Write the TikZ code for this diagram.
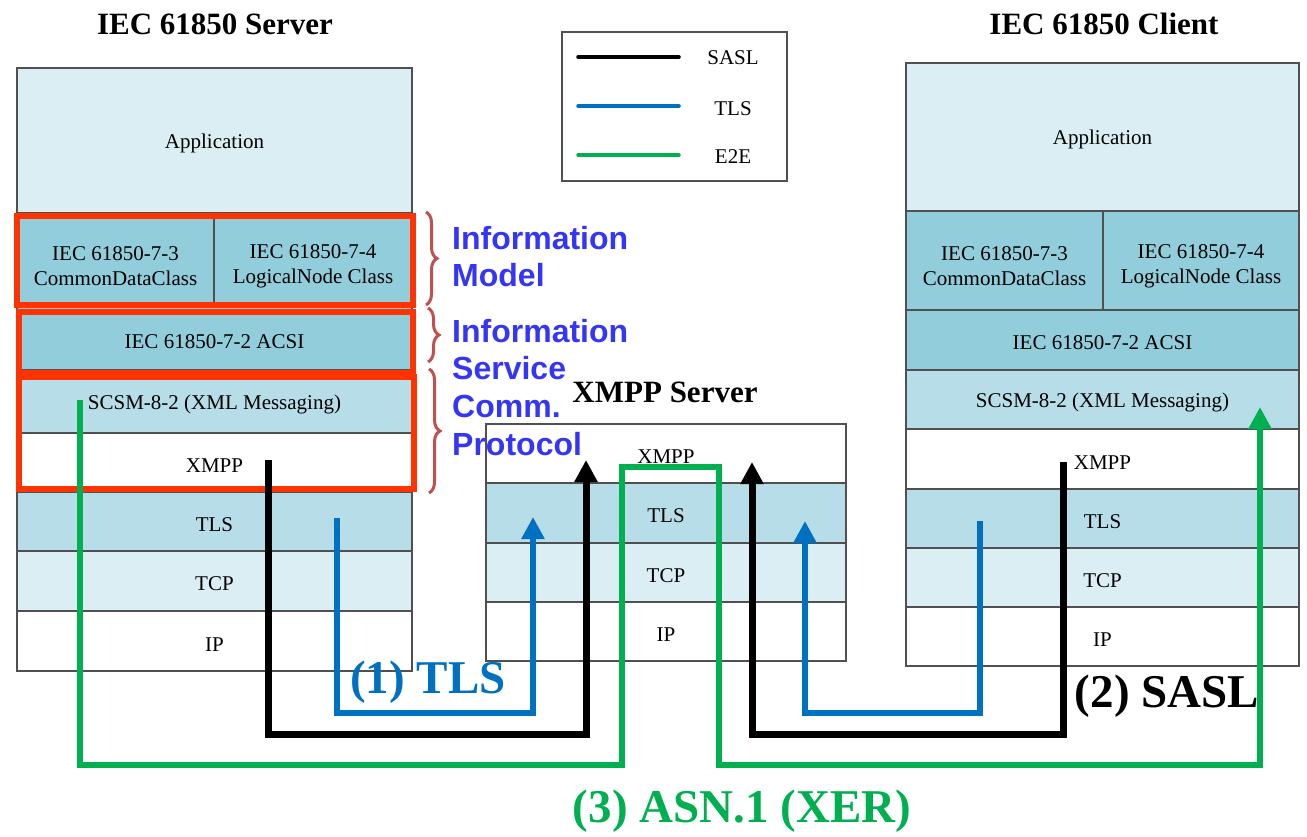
\documentclass[tikz,border=0pt]{standalone}
\usepackage{fontspec}
\setmainfont{Liberation Serif}
\newfontfamily\labelsans{Liberation Sans}
\usetikzlibrary{arrows.meta,decorations.pathreplacing}

\definecolor{appfill}{HTML}{DAEEF3}
\definecolor{modfill}{HTML}{92CDDC}
\definecolor{msgfill}{HTML}{B7DEE8}
\definecolor{edgegray}{HTML}{505050}
\definecolor{hlred}{HTML}{FF3300}
\definecolor{bracered}{HTML}{C0504D}
\definecolor{infoblue}{HTML}{3535F5}
\definecolor{tlsblue}{HTML}{0070C0}
\definecolor{e2egreen}{HTML}{00B050}

% invisible strut that lowers a layer caption a little
\newcommand\capstrut[1]{\rule{0pt}{#1}}

\begin{document}
\begin{tikzpicture}[x=1pt,y=-1pt,
  lay/.style={draw=edgegray, line width=1.3pt, anchor=north west, inner sep=0pt,
    outer sep=0pt, align=center, font=\fontsize{21}{25}\selectfont,
    execute at begin node={\capstrut{20pt}}},
  title/.style={anchor=base, font=\bfseries\fontsize{31}{36}\selectfont},
  biglabel/.style={anchor=base, font=\bfseries\fontsize{47}{52}\selectfont},
  infolabel/.style={anchor=north west, inner sep=0pt, align=left, text=infoblue,
    font=\labelsans\bfseries\fontsize{32}{37.5}\selectfont},
  hlbox/.style={draw=hlred, line width=6pt},
  bracket/.style={draw=bracered, line width=3pt, decorate,
    decoration={brace, amplitude=11pt}},
  legendtext/.style={anchor=base, font=\fontsize{21}{25}\selectfont},
  sasl/.style={draw=black, line width=7pt},
  tls/.style={draw=tlsblue, line width=6pt},
  e2e/.style={draw=e2egreen, line width=6.5pt},
  tip/.style={-{Triangle[width=22pt,length=22pt]}},
]
\useasboundingbox (0,0) rectangle (1307,837);

% ---------- IEC 61850 server stack ----------
\node[title] (stitle) at (215,35) {IEC 61850 Server};
\node[lay,fill=appfill,minimum width=395pt,minimum height=145pt] (sapp) at (17,68) {Application};
\node[lay,fill=modfill,minimum width=197pt,minimum height=94pt] (scdc) at (17,213) {\capstrut{26pt}IEC 61850-7-3\\CommonDataClass};
\node[lay,fill=modfill,minimum width=198pt,minimum height=94pt] (sln) at (214,213) {\capstrut{26pt}IEC 61850-7-4\\LogicalNode Class};
\node[lay,fill=modfill,minimum width=395pt,minimum height=63pt] (sacsi) at (17,307) {IEC 61850-7-2 ACSI};
\node[lay,fill=msgfill,minimum width=395pt,minimum height=63pt] (sscsm) at (17,370) {SCSM-8-2 (XML Messaging)};
\node[lay,fill=white,minimum width=395pt,minimum height=59pt] (sxmpp) at (17,433) {XMPP};
\node[lay,fill=msgfill,minimum width=395pt,minimum height=59pt] (stls) at (17,492) {TLS};
\node[lay,fill=appfill,minimum width=395pt,minimum height=60pt] (stcp) at (17,551) {TCP};
\node[lay,fill=white,minimum width=395pt,minimum height=60pt] (sip) at (17,611) {IP};

% ---------- XMPP server stack ----------
\node[title] (xtitle) at (665,402) {XMPP Server};
\node[lay,fill=white,minimum width=360pt,minimum height=59pt] (xxmpp) at (486,424) {XMPP};
\node[lay,fill=msgfill,minimum width=360pt,minimum height=60pt] (xtls) at (486,483) {TLS};
\node[lay,fill=appfill,minimum width=360pt,minimum height=59pt] (xtcp) at (486,543) {TCP};
\node[lay,fill=white,minimum width=360pt,minimum height=59pt] (xip) at (486,602) {IP};

% ---------- IEC 61850 client stack ----------
\node[title] (ctitle) at (1104,35) {IEC 61850 Client};
\node[lay,fill=appfill,minimum width=393pt,minimum height=148pt] (capp) at (906,63) {Application};
\node[lay,fill=modfill,minimum width=197pt,minimum height=99pt] (ccdc) at (906,211) {\capstrut{26pt}IEC 61850-7-3\\CommonDataClass};
\node[lay,fill=modfill,minimum width=196pt,minimum height=99pt] (cln) at (1103,211) {\capstrut{26pt}IEC 61850-7-4\\LogicalNode Class};
\node[lay,fill=modfill,minimum width=393pt,minimum height=60pt] (cacsi) at (906,310) {IEC 61850-7-2 ACSI};
\node[lay,fill=msgfill,minimum width=393pt,minimum height=59pt] (cscsm) at (906,370) {SCSM-8-2 (XML Messaging)};
\node[lay,fill=white,minimum width=393pt,minimum height=60pt] (cxmpp) at (906,429) {XMPP};
\node[lay,fill=msgfill,minimum width=393pt,minimum height=59pt] (ctls) at (906,489) {TLS};
\node[lay,fill=appfill,minimum width=393pt,minimum height=59pt] (ctcp) at (906,548) {TCP};
\node[lay,fill=white,minimum width=393pt,minimum height=59pt] (cip) at (906,607) {IP};

% ---------- legend ----------
\node[draw=edgegray, line width=1.3pt, anchor=north west, inner sep=0pt, outer sep=0pt,
  minimum width=225pt, minimum height=149pt] (legend) at (562,32) {};
\coordinate (lg1a) at (578,57);  \coordinate (lg1b) at (679,57);
\coordinate (lg2a) at (578,106); \coordinate (lg2b) at (679,106);
\coordinate (lg3a) at (578,155); \coordinate (lg3b) at (679,155);
\draw[black, line width=3.5pt, line cap=round] (lg1a) -- (lg1b);
\draw[tlsblue, line width=3.5pt, line cap=round] (lg2a) -- (lg2b);
\draw[e2egreen, line width=3.5pt, line cap=round] (lg3a) -- (lg3b);
\node[legendtext] (lgsasl) at (733,65) {SASL};
\node[legendtext] (lgtls) at (733,116) {TLS};
\node[legendtext] (lge2e) at (733,164) {E2E};

% ---------- highlighted layer groups ----------
\draw[hlbox] (17,216) rectangle (413,305);
\draw[hlbox] (19,312) rectangle (413,373);
\draw[hlbox] (19,377) rectangle (414,489);

\draw[bracket] (426,212) -- (426,305);
\draw[bracket] (428,308) -- (428,362);
\draw[bracket] (429,369) -- (429,493);

\node[infolabel] (lmodel) at (452,226) {Information\\Model};
\node[infolabel] (lservice) at (452,319) {Information\\Service};
\node[infolabel] (lproto) at (452,395) {Comm.\\Protocol};

% ---------- connections ----------
\coordinate (e2es) at (80,400);
\coordinate (e2ea) at (622,467);
\coordinate (e2eb) at (719,467);
\coordinate (e2ee) at (1260,407);
\draw[e2e,tip] (e2es) -- ++(0,365) -| (e2ea) -- (e2eb) -- ++(0,298) -| (e2ee);

\coordinate (sasl1s) at (268,460);
\coordinate (sasl1e) at (586,460);
\draw[sasl,tip] (sasl1s) -- ++(0,274) -| (sasl1e);

\coordinate (sasl2s) at (1063,462);
\coordinate (sasl2e) at (752,462);
\draw[sasl,tip] (sasl2s) -- ++(0,272) -| (sasl2e);

\coordinate (tls1s) at (337,518);
\coordinate (tls1e) at (533,517);
\draw[tls,tip] (tls1s) -- ++(0,195) -| (tls1e);

\coordinate (tls2s) at (980,521);
\coordinate (tls2e) at (805,521);
\draw[tls,tip] (tls2s) -- ++(0,192) -| (tls2e);

\node[biglabel, text=tlsblue] (ltls) at (428,693) {(1) TLS};
\node[biglabel, text=black] (lsasl) at (1167,707) {(2) SASL};
\node[biglabel, text=e2egreen] (lasn) at (742,822) {(3) ASN.1 (XER)};
\end{tikzpicture}
\end{document}
